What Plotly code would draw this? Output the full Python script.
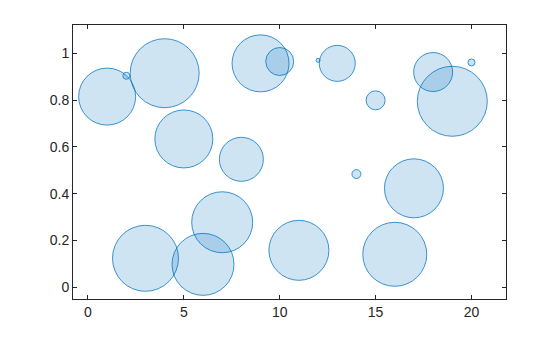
import plotly.graph_objects as go

x_vals = [1, 2, 3, 4, 5, 6, 7, 8, 9, 10, 11, 12, 13, 14, 15, 16, 17, 18, 19, 20]
y_vals = [0.815, 0.904, 0.124, 0.915, 0.634, 0.098, 0.278, 0.547, 0.957, 0.965,
          0.158, 0.970, 0.957, 0.484, 0.799, 0.141, 0.423, 0.920, 0.795, 0.961]
bubble_sizes = [57, 7, 66, 69, 58, 62, 61, 44, 57, 28,
                60, 4, 36, 9, 19, 64, 59, 39, 70, 7]

x_ticks = [0, 5, 10, 15, 20]
y_ticks = [0, 0.2, 0.4, 0.6, 0.8, 1]
y_tick_text = ["0", "0.2", "0.4", "0.6", "0.8", "1"]

fig = go.Figure()
fig.add_trace(go.Scatter(
    x=x_vals, y=y_vals, mode="markers",
    marker=dict(size=bubble_sizes, sizemode="diameter", sizeref=1, opacity=1,
                color="rgba(0,114,189,0.19)",
                line=dict(color="rgba(0,114,189,0.75)", width=1)),
    showlegend=False, hoverinfo="x+y",
))

axis_common = dict(
    showgrid=False, zeroline=False, showline=True, linecolor="#262626",
    linewidth=1, mirror="ticks", ticks="inside", ticklen=4, tickwidth=1,
    tickcolor="#262626", tickfont=dict(family="Liberation Sans, Arial", size=14, color="#262626"),
)

fig.update_layout(
    width=560, height=337,
    margin=dict(l=73, r=54, t=25, b=38),
    paper_bgcolor="white", plot_bgcolor="white",
    xaxis=dict(range=[-0.78, 21.8], tickvals=x_ticks, **axis_common),
    yaxis=dict(range=[-0.05, 1.121], tickvals=y_ticks, ticktext=y_tick_text, **axis_common),
)

fig.write_html("out.html")
